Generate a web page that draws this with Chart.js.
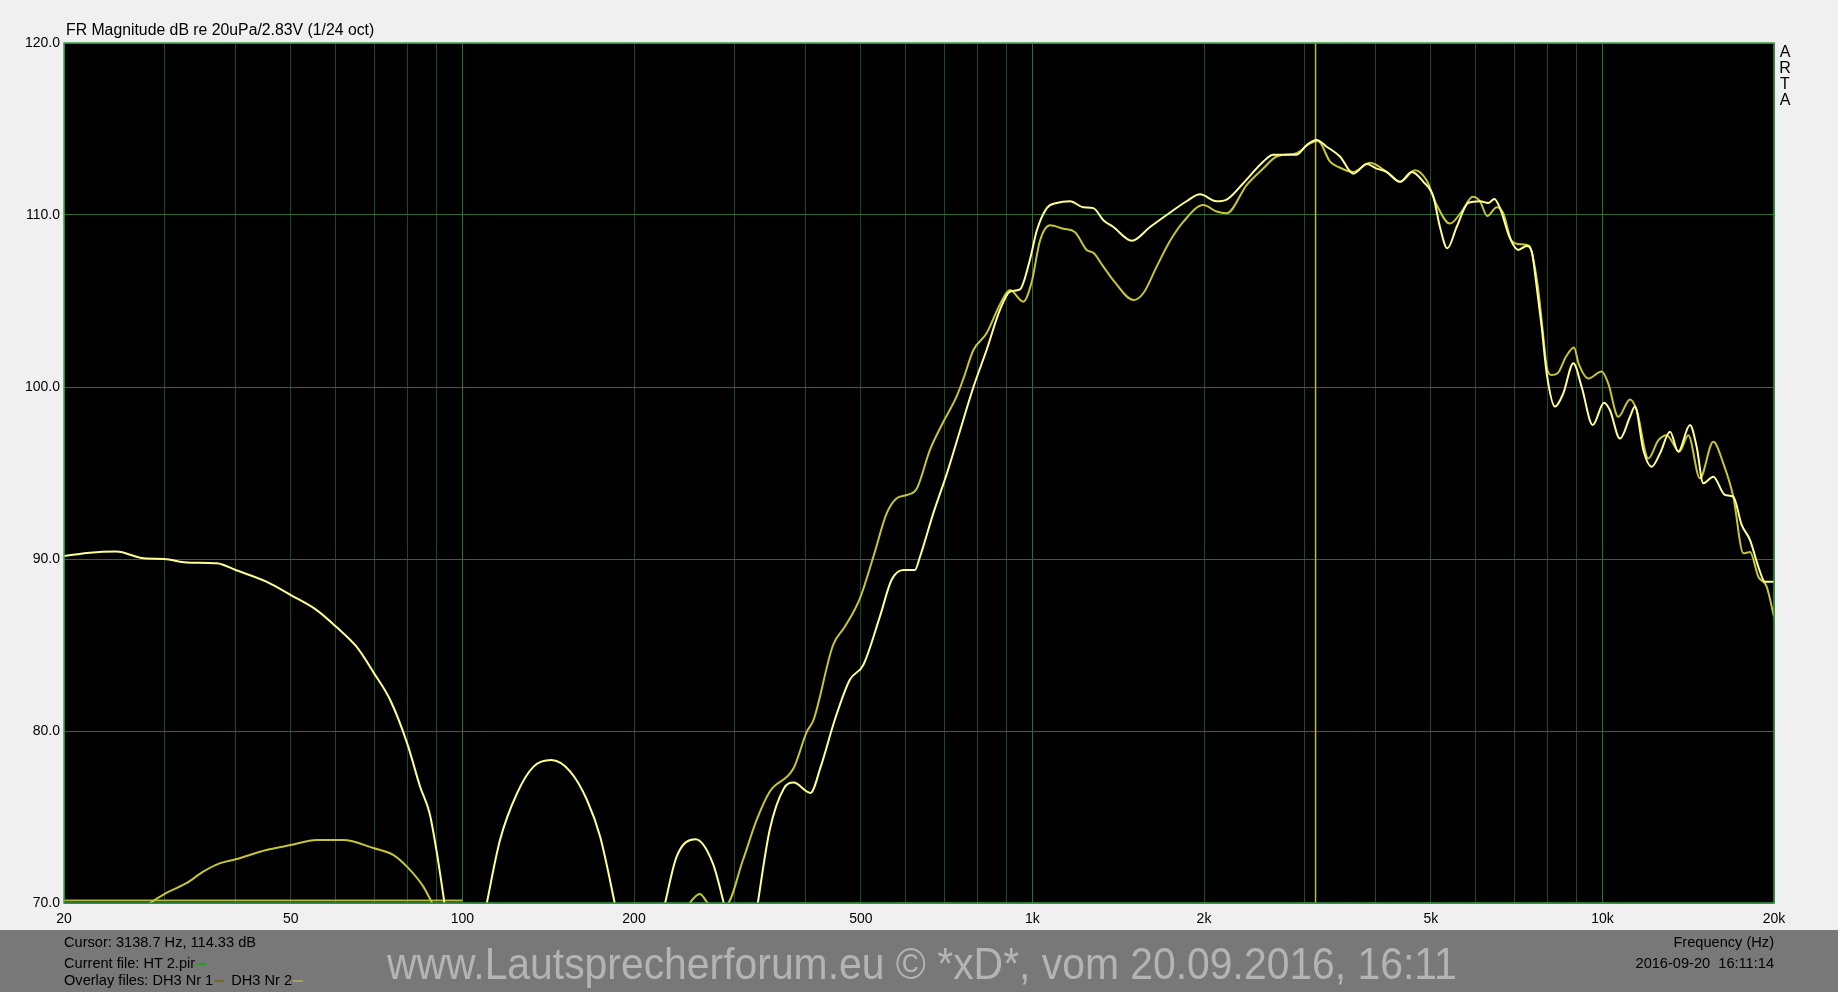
<!DOCTYPE html>
<html>
<head>
<meta charset="utf-8">
<script src="https://cdn.jsdelivr.net/npm/chart.js@4/dist/chart.umd.min.js"></script>
<style>
  body { margin: 0; background: #f0f0f0; font-family: "Liberation Sans", Arial, sans-serif; }
  #wrap { position: relative; width: 1838px; height: 992px; overflow: hidden; }
  #band { position: absolute; left: 0; top: 930px; width: 1838px; height: 62px; background: #787878; }
  canvas { position: absolute; left: 0; top: 0; }
  .t { position: absolute; white-space: nowrap; line-height: 1; color: #000; }
  .s14 { font-size: 14.6px; }
  .dash { display: inline-block; width: 10px; height: 2px; vertical-align: middle; margin: 0 3px 0 1px; }
  #arta { position: absolute; left: 1779px; top: 44px; font-size: 16px; line-height: 16.1px; width: 12px; text-align: center; }
  #wm { position: absolute; left: 387px; top: 942px; font-size: 44px; line-height: 1; color: #b4b4b4; white-space: nowrap;
        font-family: "Liberation Sans Narrow", "Liberation Sans", Arial, sans-serif; transform-origin: 0 0; }
</style>
</head>
<body>
<div id="wrap">
  <div id="band"></div>
  <canvas id="fr" width="1838" height="992"></canvas>
  <div class="t" style="left:66px; top:22px; font-size:15.8px;">FR Magnitude dB re 20uPa/2.83V (1/24 oct)</div>
  <div id="arta">A<br>R<br>T<br>A</div>
  <div class="t s14" style="left:64px; top:935px;">Cursor: 3138.7 Hz, 114.33 dB</div>
  <div class="t s14" style="left:64px; top:956px;">Current file: HT 2.pir<span class="dash" style="background:#22a022"></span></div>
  <div class="t s14" style="left:64px; top:973px;">Overlay files: DH3 Nr 1<span class="dash" style="background:#6e6e1e"></span> DH3 Nr 2<span class="dash" style="background:#a4a458"></span></div>
  <div class="t s14" style="right:64px; top:935px;">Frequency (Hz)</div>
  <div class="t s14" style="right:64px; top:956px;">2016-09-20&nbsp; 16:11:14</div>
  <div id="wm">www.Lautsprecherforum.eu © *xD*, vom 20.09.2016, 16:11</div>
</div>
<script>
// grid / tick positions
const gridFreqs = [20, 30, 40, 50, 60, 70, 80, 90, 100, 200, 300, 400, 500, 600, 700, 800, 900,
    1000, 2000, 3000, 4000, 5000, 6000, 7000, 8000, 9000, 10000, 20000];
const labelFreqs = [20, 50, 100, 200, 500, 1000, 2000, 5000, 10000, 20000];
const labelTexts = ['20', '50', '100', '200', '500', '1k', '2k', '5k', '10k', '20k'];
const majorFreqs = [100, 1000, 10000];

// bright curve (null = below 70 dB)
const brightFreq = [20, 22.2, 24.7, 27.6, 30, 32.8, 37.1, 40, 45.3, 50, 55.5, 60, 65.2, 70, 74.7, 80, 84.3, 87.6, 90, 93.5,
    100,
    109.6, 116.4, 124.7, 133.3, 143.2, 154.6, 165.4, 174.4, 186.4,
    205,
    225, 237.6, 256.4, 275, 290,
    310,
    328, 346, 366.6, 381, 408, 425, 450, 478, 505, 540, 566, 594, 622, 635, 670, 708, 747, 788, 831, 877, 913, 951,
    990, 1018, 1060, 1103, 1164, 1228, 1279, 1332, 1387, 1494, 1608, 1720, 1864, 1968, 2104, 2192, 2344, 2540, 2646,
    2908, 3028, 3152, 3282, 3464, 3656, 3860, 4018, 4184, 4416, 4630, 4852, 5051, 5188, 5345, 5550, 5817, 6098, 6306,
    6462, 6611, 6885, 7119, 7364, 7516, 7668, 7824, 7984, 8256, 8538, 8892, 9197, 9616, 10066, 10306, 10734, 11180,
    11404, 11796, 12202, 12619, 13142, 13584, 14242, 14632, 15032, 15650, 16408, 16968, 17552, 18156, 18774, 19278, 20000];
const brightDb = [90.17, 90.37, 90.43, 90.04, 90.0, 89.8, 89.75, 89.36, 88.68, 87.9, 87.03, 86.07, 84.9, 83.35, 81.8, 79.28, 76.76, 75.2, 73.1, 69.5,
    null,
    69.5, 73.66, 76.38, 77.93, 78.31, 77.64, 75.99, 73.86, 69.5,
    null,
    69.5, 72.7, 73.7, 72.3, 69.5,
    null,
    69.5, 74.24, 76.67, 77.0, 76.4, 77.9, 80.64, 82.97, 83.84, 86.65, 88.78, 89.36, 89.36, 90.13, 92.65, 94.98, 97.5, 100.0, 102.15, 104.48, 105.54, 105.68,
    107.4, 109.1, 110.4, 110.7, 110.8, 110.45, 110.4, 109.7, 109.3, 108.5, 109.3, 110.0, 110.8, 111.2, 110.8, 110.9, 111.85, 113.1, 113.5,
    113.5, 114.07, 114.36, 113.97, 113.4, 112.4, 112.96, 112.7, 112.5, 111.93, 112.5, 111.93, 111.06, 109.3, 108.06, 109.3, 110.7, 110.8, 110.7,
    110.93, 110.4, 108.64, 107.97, 108.2, 107.87, 105.83, 103.5, 100.8, 98.86, 99.63, 101.38, 100.0, 97.79, 99.09, 98.66, 97.0, 98.27,
    98.86, 96.34, 95.37, 96.14, 97.4, 96.24, 97.79, 96.53, 94.4, 94.78, 93.72, 93.62, 91.98, 91.1, 89.55, 88.68, 88.68];

// olive curve
const oliveFreq = [28.0, 30.3, 32.8, 35.1, 37.5, 40, 45.3, 50, 55.5, 61.8, 70, 75.6, 80, 85.4, 90,
    150,
    245, 261, 272, 290, 310.6, 328, 346, 381, 402, 413, 447, 469, 498, 526, 555, 578, 602, 627, 661, 698, 736, 757,
    788, 831, 877, 913, 964, 997, 1031, 1074, 1133, 1188, 1245, 1279, 1332, 1387, 1504, 1565, 1652, 1744, 1839, 1995,
    2104, 2192, 2376, 2540, 2682, 2908, 3070, 3170, 3328, 3440, 3656, 3910, 4184, 4416, 4690, 4918, 5118, 5402, 5664,
    5922, 6098, 6282, 6524, 6700, 6932, 7194, 7441, 7700, 7850, 7984, 8126, 8346, 8630, 8916, 9081, 9448, 9970, 10240,
    10660, 11180, 11484, 12038, 12532, 12962, 13646, 14148, 14826, 15650, 16296, 16968, 17672, 18156, 18774, 19414, 20000];
const oliveDb = [69.9, 70.6, 71.15, 71.82, 72.3, 72.54, 73.08, 73.37, 73.66, 73.66, 73.18, 72.8, 72.1, 70.95, 69.5,
    null,
    69.6, 70.52, 69.9, 69.9, 72.5, 74.8, 76.47, 77.83, 79.96, 80.64, 85.0, 86.07, 87.7, 90.13, 92.65, 93.53, 93.72, 94.1, 96.34, 97.98, 99.44, 100.5,
    102.15, 103.12, 104.8, 105.64, 104.96, 106.1, 108.5, 109.4, 109.2, 109.0, 107.97, 107.8, 107.0, 106.2, 105.06, 105.45, 107.0, 108.5, 109.6, 110.58,
    110.2, 110.1, 111.74, 112.7, 113.4, 113.6, 114.17, 114.3, 113.1, 112.8, 112.5, 113.04, 112.5, 111.93, 112.6, 112.0, 110.6, 109.5, 110.2,
    111.06, 110.8, 109.94, 110.45, 110.1, 108.5, 108.3, 108.2, 105.9, 103.4, 101.2, 100.7, 100.8, 101.76, 102.3, 101.38, 100.5, 100.9, 100.2,
    98.27, 99.28, 98.66, 95.85, 96.9, 97.2, 96.24, 97.2, 94.69, 96.82, 95.56, 93.62, 90.33, 90.4, 88.97, 88.39, 86.65];

// floor line of the third file
const floorFreq = [20, 100];
const floorDb = [70.15, 70.15];

// cursor
const cursorFreq = [3138.7, 3138.7];
const cursorDb = [70, 120];

const toXY = (fs, ds) => fs.map((f, i) => ({ x: f, y: ds[i] }));

const frame = {
    id: 'frame',
    beforeDraw(chart) {
        const { ctx, chartArea: a } = chart;
        ctx.save();
        ctx.fillStyle = '#000';
        ctx.fillRect(a.left, a.top, a.right - a.left, a.bottom - a.top);
        ctx.restore();
    },
    afterDraw(chart) {
        const { ctx, chartArea: a } = chart;
        ctx.save();
        ctx.strokeStyle = '#36a046';
        ctx.lineWidth = 1.5;
        ctx.strokeRect(a.left, a.top, a.right - a.left, a.bottom - a.top);
        ctx.restore();
    }
};

const ctx = document.getElementById('fr').getContext('2d');
new Chart(ctx, {
    type: 'line',
    data: {
        datasets: [
            { data: toXY(brightFreq, brightDb), borderColor: '#ffff94', borderWidth: 2, cubicInterpolationMode: 'monotone' },
            { data: toXY(oliveFreq, oliveDb), borderColor: '#c6c634', borderWidth: 2, cubicInterpolationMode: 'monotone' },
            { data: toXY(floorFreq, floorDb), borderColor: '#b4b43c', borderWidth: 2 },
            { data: toXY(cursorFreq, cursorDb), borderColor: '#b8b848', borderWidth: 1.5 }
        ]
    },
    options: {
        responsive: false,
        animation: false,
        spanGaps: false,
        elements: { point: { radius: 0 }, line: { tension: 0 } },
        layout: { padding: { left: 0, top: 43, right: 64, bottom: 0 } },
        plugins: { legend: { display: false }, tooltip: { enabled: false } },
        scales: {
            x: {
                type: 'logarithmic',
                min: 20,
                max: 20000,
                afterBuildTicks: (scale) => { scale.ticks = gridFreqs.map(v => ({ value: v })); },
                afterFit: (scale) => { scale.height = 89; },
                grid: {
                    drawTicks: false,
                    color: (c) => majorFreqs.includes(c.tick && c.tick.value) ? '#2c6e34' : '#1c4a22',
                    lineWidth: 1
                },
                border: { display: false },
                ticks: {
                    autoSkip: false,
                    maxRotation: 0,
                    padding: 8,
                    color: '#000',
                    font: { family: 'Liberation Sans, Arial, sans-serif', size: 14 },
                    callback: (v) => {
                        const i = labelFreqs.indexOf(v);
                        return i >= 0 ? labelTexts[i] : '';
                    }
                }
            },
            y: {
                min: 70,
                max: 120,
                afterFit: (scale) => { scale.width = 64; },
                grid: { drawTicks: false, color: '#2a6a32', lineWidth: 1 },
                border: { display: false },
                ticks: {
                    stepSize: 10,
                    padding: 4,
                    color: '#000',
                    font: { family: 'Liberation Sans, Arial, sans-serif', size: 14 },
                    callback: (v) => v.toFixed(1)
                }
            }
        }
    },
    plugins: [frame]
});

// squeeze the watermark to its width in the reference
const wm = document.getElementById('wm');
wm.style.transform = 'scaleX(' + (1070 / wm.offsetWidth) + ')';
</script>
</body>
</html>
